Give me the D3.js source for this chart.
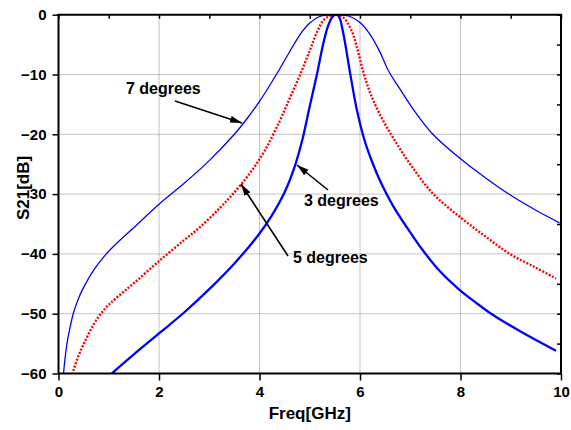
<!DOCTYPE html>
<html>
<head>
<meta charset="utf-8">
<script src="https://cdn.jsdelivr.net/npm/d3@7"></script>
<style>
  body { margin: 0; background: #fff; }
  text { font-family: Arial, "Liberation Sans", sans-serif; font-weight: bold; }
</style>
</head>
<body>
<script>
"use strict";

const width = 571;
const height = 430;

// tick labels
const xTicks = [0, 2, 4, 6, 8, 10];
const yTicks = [0, -10, -20, -30, -40, -50, -60];

// 7 degrees (thin blue)
const freq7 = [0.05, 0.1, 0.16, 0.23, 0.3, 0.4, 0.5, 0.7, 0.93, 1.2, 1.5, 2.0, 2.5, 3.0, 3.5, 3.75, 4.0, 4.3, 4.6, 4.8, 5.0, 5.2, 5.5, 5.8, 6.0, 6.2, 6.4, 6.56, 6.8, 7.05, 7.45, 8.0, 8.5, 9.0, 9.5, 9.97];
const s21_7 = [-66, -60, -55.5, -52.3, -49.8, -47.4, -45.6, -42.7, -40.2, -37.9, -35.6, -31.7, -28.2, -24.4, -20, -17.4, -14.5, -10.5, -6.2, -3.4, -1.4, -0.3, 0, -0.3, -1.3, -3.3, -6.3, -9.3, -12.5, -15.7, -20, -24.1, -27.3, -30.2, -32.7, -34.8];

// 5 degrees (red dotted)
const freq5 = [0.22, 0.28, 0.4, 0.55, 0.7, 0.86, 1.0, 1.2, 1.5, 2.0, 2.5, 2.82, 3.2, 3.47, 3.8, 4.1, 4.4, 4.6, 4.8, 5.0, 5.15, 5.3, 5.5, 5.66, 5.83, 5.93, 6.06, 6.2, 6.39, 6.66, 7.0, 7.45, 8.0, 8.5, 8.98, 9.5, 9.9];
const s21_5 = [-62.5, -60, -57, -54.2, -51.8, -49.8, -48.5, -47, -44.9, -41.2, -37.7, -35.5, -32.4, -30, -26.6, -22.8, -17.8, -14, -10.2, -6, -2.8, -0.7, 0, -0.4, -2.6, -5.2, -9.4, -13, -16.6, -20.6, -25, -29.9, -33.9, -37.1, -40, -42.3, -44.1];

// 3 degrees (thick blue)
const freq3 = [1.0, 1.06, 1.5, 2.0, 2.5, 3.0, 3.5, 4.0, 4.25, 4.5, 4.7, 4.85, 5.0, 5.14, 5.26, 5.36, 5.45, 5.52, 5.58, 5.66, 5.8, 5.93, 6.09, 6.25, 6.39, 6.66, 7.0, 7.25, 7.6, 7.98, 8.3, 8.61, 9.24, 9.9];
const s21_3 = [-60.5, -60, -56.8, -53.3, -49.8, -45.9, -41.6, -36.6, -33.5, -29.7, -25.4, -21, -15.3, -10.1, -5.2, -2, -0.4, 0, -0.3, -2.8, -9.6, -15.6, -21, -24.8, -27.6, -32, -36.4, -39.4, -43, -46, -48.1, -50, -53.2, -56.2];

// annotation labels
const labels = ["7 degrees", "3 degrees", "5 degrees"];

const x = d3.scaleLinear().domain([0, 10]).range([58.5, 561]);
const y = d3.scaleLinear().domain([-60, 0]).range([373.5, 14.7]);

const svg = d3
  .select("body")
  .append("svg")
  .attr("width", width)
  .attr("height", height);

const defs = svg.append("defs");

defs
  .append("clipPath")
  .attr("id", "plot")
  .append("rect")
  .attr("x", x(0))
  .attr("y", y(0))
  .attr("width", x(10) - x(0))
  .attr("height", y(-60) - y(0));

defs
  .append("marker")
  .attr("id", "head")
  .attr("viewBox", "0 0 12 8")
  .attr("refX", 12)
  .attr("refY", 4)
  .attr("markerWidth", 12)
  .attr("markerHeight", 8)
  .attr("markerUnits", "userSpaceOnUse")
  .attr("orient", "auto")
  .append("path")
  .attr("d", "M0,0.5L12,4L0,7.5Z")
  .attr("fill", "#000");

// grid
const grid = svg.append("g").attr("stroke", "#888").attr("stroke-width", 1).attr("stroke-dasharray", "1,1");
grid
  .selectAll(".gx")
  .data(xTicks.slice(1, -1))
  .enter()
  .append("line")
  .attr("x1", (d) => x(d))
  .attr("x2", (d) => x(d))
  .attr("y1", y(0))
  .attr("y2", y(-60));
grid
  .selectAll(".gy")
  .data(yTicks.slice(1, -1))
  .enter()
  .append("line")
  .attr("x1", x(0))
  .attr("x2", x(10))
  .attr("y1", (d) => y(d))
  .attr("y2", (d) => y(d));

// curves
const series = [
  { fx: freq7, fy: s21_7, w: 1.3, dash: null, color: "#0000ff" },
  { fx: freq5, fy: s21_5, w: 2.4, dash: "2,1.6", color: "#ff0000" },
  { fx: freq3, fy: s21_3, w: 2.3, dash: null, color: "#0000ff" }
];

const line = d3
  .line()
  .x((d) => x(d[0]))
  .y((d) => y(d[1]))
  .curve(d3.curveCatmullRom.alpha(0.5));

svg
  .append("g")
  .attr("clip-path", "url(#plot)")
  .selectAll("path")
  .data(series)
  .enter()
  .append("path")
  .attr("d", (s) => line(d3.zip(s.fx, s.fy)))
  .attr("fill", "none")
  .attr("stroke", (s) => s.color)
  .attr("stroke-width", (s) => s.w)
  .attr("stroke-dasharray", (s) => s.dash);

// axes
const axBottom = svg
  .append("g")
  .attr("transform", "translate(0," + y(-60) + ")")
  .call(d3.axisBottom(x).tickValues(d3.range(0, 11, 1)).tickSize(4).tickFormat(""));
axBottom.call(d3.axisBottom(x).tickValues(xTicks).tickSize(7).tickPadding(6));

const axLeft = svg
  .append("g")
  .attr("transform", "translate(" + x(0) + ",0)")
  .call(d3.axisLeft(y).tickValues(d3.range(-60, 1, 5)).tickSize(3).tickFormat(""));
axLeft.call(d3.axisLeft(y).tickValues(yTicks).tickSize(6).tickPadding(6));

const axTop = svg
  .append("g")
  .attr("transform", "translate(0," + y(0) + ")")
  .call(d3.axisBottom(x).tickValues(d3.range(0, 11, 1)).tickSize(4).tickFormat(""));

const axRight = svg
  .append("g")
  .attr("transform", "translate(" + x(10) + ",0)")
  .call(d3.axisLeft(y).tickValues(d3.range(-60, 1, 5)).tickSize(4).tickFormat(""));

[axBottom, axLeft, axTop, axRight].forEach(function (g) {
  g.select(".domain").attr("stroke", "#000").attr("stroke-width", 2);
  g.selectAll(".tick line").attr("stroke", "#000").attr("stroke-width", 1.5);
  g.selectAll(".tick text").attr("font-size", 15).attr("fill", "#000");
});
axBottom.select(".domain").attr("d", "M" + x(0) + ",0H" + x(10));
axTop.select(".domain").attr("d", "M" + (x(0) - 1) + ",0H" + (x(10) + 1));
axLeft.select(".domain").attr("d", "M0," + y(-60) + "V" + y(0));
axRight.select(".domain").attr("d", "M0," + y(-60) + "V" + y(0));

// axis titles
svg
  .append("text")
  .text("Freq[GHz]")
  .attr("x", x(5))
  .attr("y", 419)
  .attr("text-anchor", "middle")
  .attr("font-size", 17)
  .attr("fill", "#000");

svg
  .append("text")
  .text("S21[dB]")
  .attr("transform", "translate(29,188) rotate(-90)")
  .attr("text-anchor", "middle")
  .attr("font-size", 17)
  .attr("fill", "#000");

// annotations
const notes = [
  { text: labels[0], tx: 126, ty: 94, from: [175, 101], to: [242, 123] },
  { text: labels[1], tx: 304, ty: 206, from: [328, 190], to: [297, 165] },
  { text: labels[2], tx: 293, ty: 263, from: [288, 256], to: [241, 184] }
];

svg
  .selectAll(".note")
  .data(notes)
  .enter()
  .append("text")
  .attr("class", "note")
  .text((d) => d.text)
  .attr("x", (d) => d.tx)
  .attr("y", (d) => d.ty)
  .attr("font-size", 16)
  .attr("fill", "#000");

svg
  .selectAll(".arrow")
  .data(notes)
  .enter()
  .append("line")
  .attr("class", "arrow")
  .attr("x1", (d) => d.from[0])
  .attr("y1", (d) => d.from[1])
  .attr("x2", (d) => d.to[0])
  .attr("y2", (d) => d.to[1])
  .attr("stroke", "#000")
  .attr("stroke-width", 1.6)
  .attr("marker-end", "url(#head)");
</script>
</body>
</html>
